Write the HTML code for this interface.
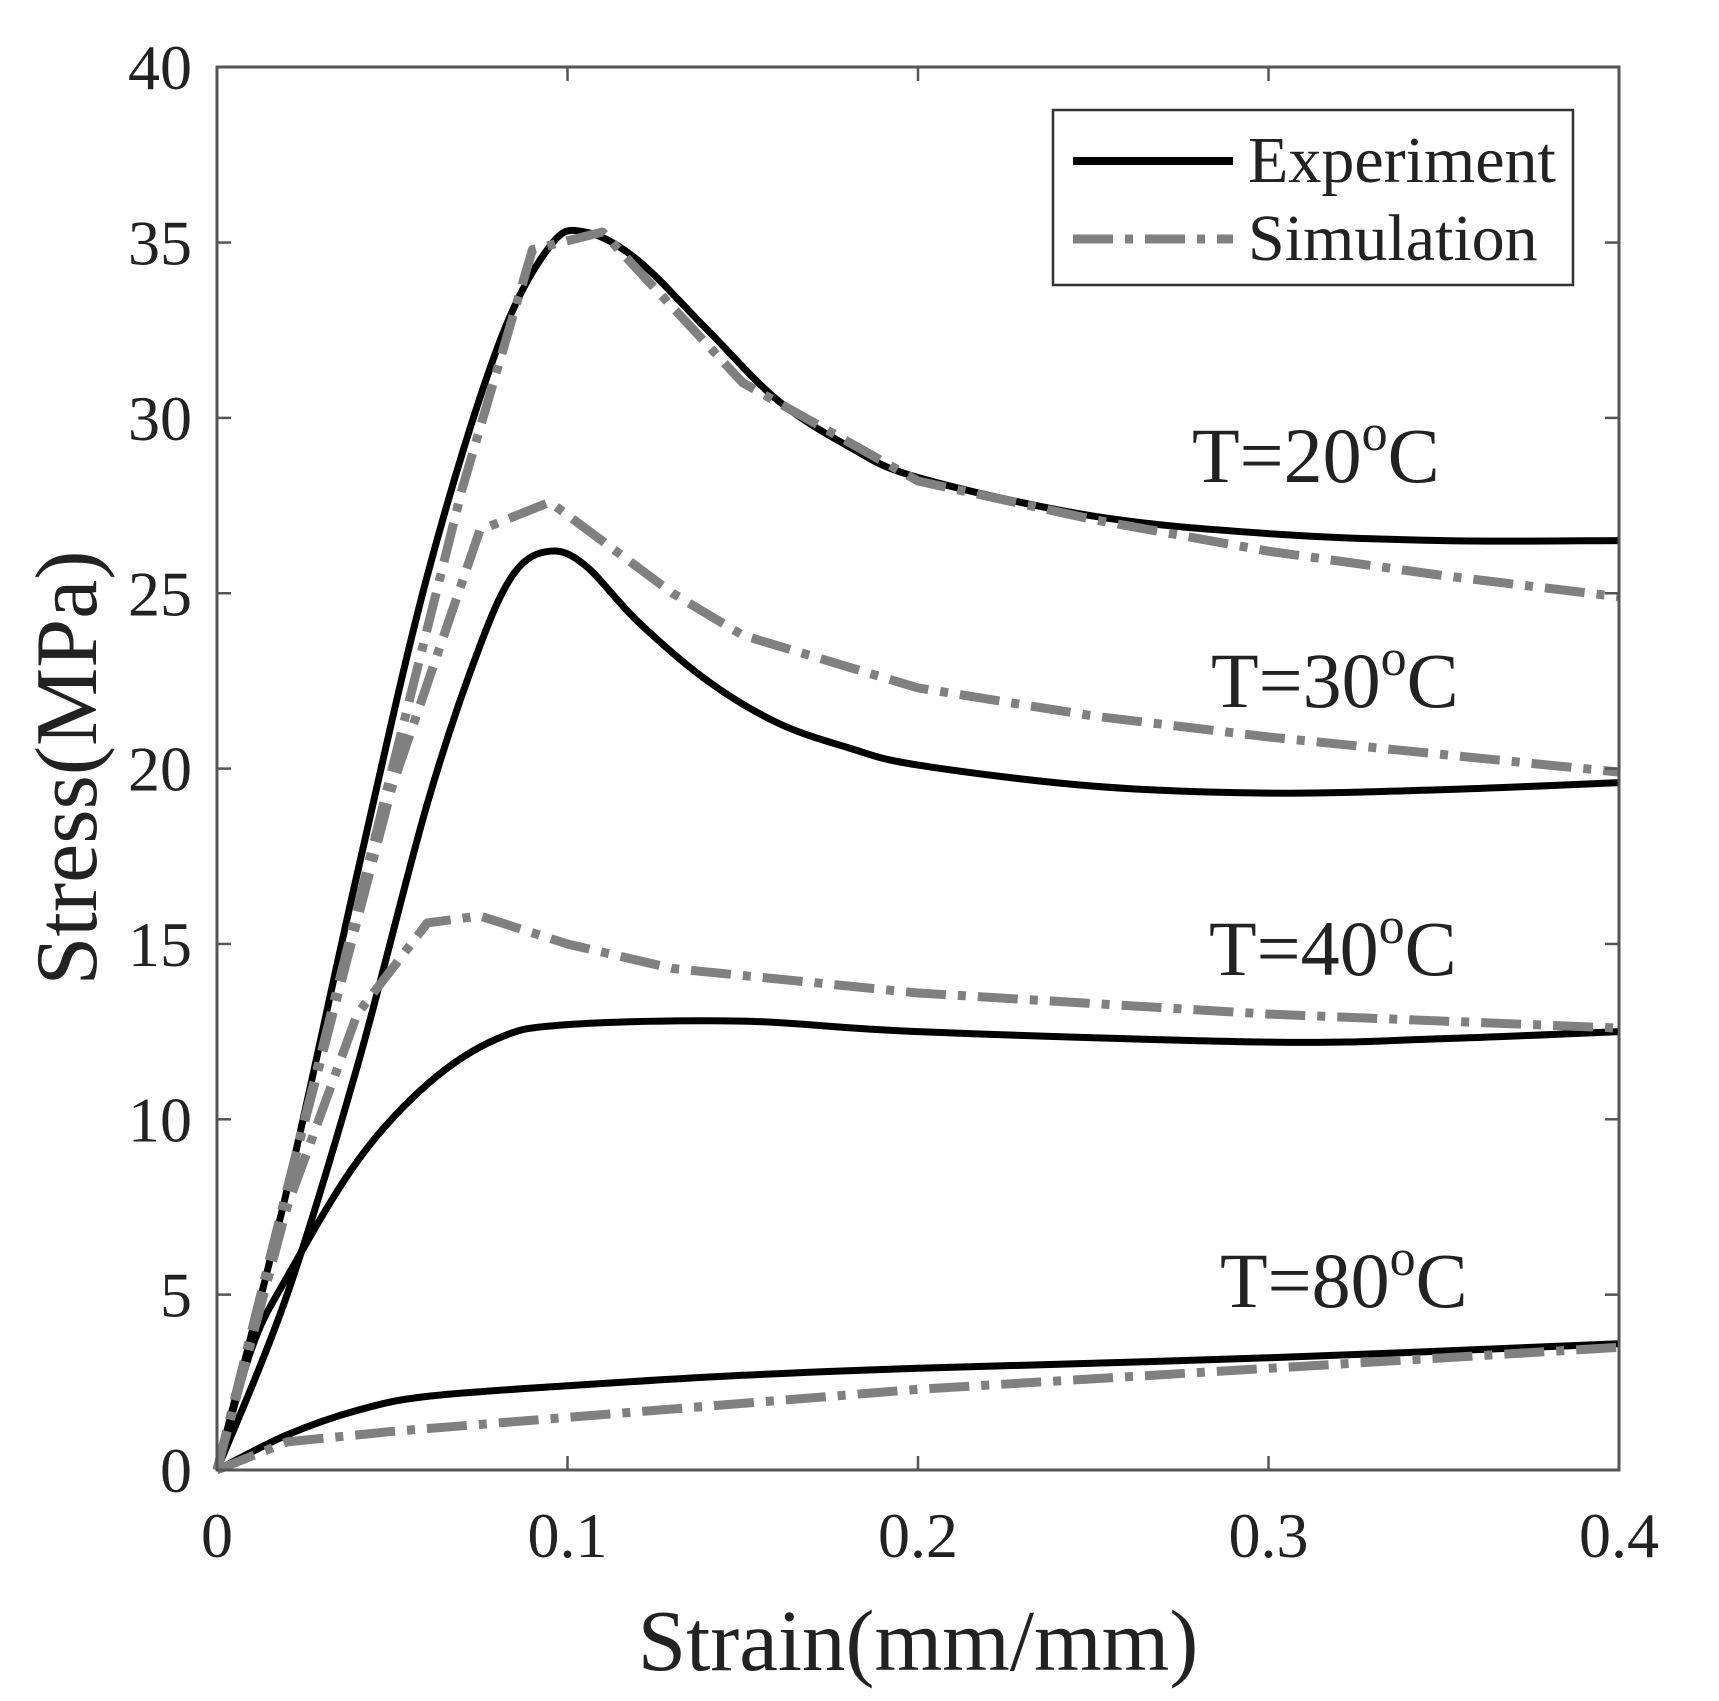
<!DOCTYPE html>
<html><head><meta charset="utf-8"><style>
html,body{margin:0;padding:0;background:#fff;}
svg text{font-family:"Liberation Serif",serif;fill:#222;}
</style></head><body>
<svg id="s" width="1719" height="1696" viewBox="0 0 1719 1696" xmlns="http://www.w3.org/2000/svg">
<rect width="1719" height="1696" fill="#fff"/>
<g id="curves" fill="none" stroke-linejoin="round"></g>
<rect x="217" y="67" width="1402" height="1403" fill="none" stroke="#555" stroke-width="3"/>
<g id="ticks" stroke="#555" stroke-width="2.5"></g>
<g id="labels" font-size="64"></g>
<text x="918" y="1670" font-size="87" text-anchor="middle">Strain(mm/mm)</text>
<text transform="translate(96,768) rotate(-90)" font-size="88" text-anchor="middle">Stress(MPa)</text>
<g font-size="78">
<text x="1192" y="482">T=20<tspan dy="-32" font-size="52">o</tspan><tspan dy="32">C</tspan></text>
<text x="1211" y="707">T=30<tspan dy="-32" font-size="52">o</tspan><tspan dy="32">C</tspan></text>
<text x="1209" y="975">T=40<tspan dy="-32" font-size="52">o</tspan><tspan dy="32">C</tspan></text>
<text x="1220" y="1307">T=80<tspan dy="-32" font-size="52">o</tspan><tspan dy="32">C</tspan></text>
</g>
<rect x="1053" y="110" width="520" height="175" fill="#fff" stroke="#333" stroke-width="2.5"/>
<line x1="1073" y1="161" x2="1233" y2="161" stroke="#000" stroke-width="8"/>
<line x1="1073" y1="239" x2="1233" y2="239" stroke="#808080" stroke-width="9" stroke-dasharray="40 12 8 12"/>
<text x="1248" y="182" font-size="66">Experiment</text>
<text x="1248" y="260" font-size="66">Simulation</text>
</svg>
<script>
var X=function(s){return 217+s*3505},Y=function(v){return 1470-v*35.07};
var ns="http://www.w3.org/2000/svg";
function path(pts,exp,smooth){var P=pts.map(function(p){return [X(p[0]),Y(p[1])]});
var d='M'+P[0][0].toFixed(1)+' '+P[0][1].toFixed(1);
for(var i=0;i<P.length-1;i++){
 if(!smooth){d+=' L'+P[i+1][0].toFixed(1)+' '+P[i+1][1].toFixed(1);continue;}
 var p0=P[Math.max(0,i-1)],p1=P[i],p2=P[i+1],p3=P[Math.min(P.length-1,i+2)];
 var c1=[p1[0]+(p2[0]-p0[0])/6,p1[1]+(p2[1]-p0[1])/6],c2=[p2[0]-(p3[0]-p1[0])/6,p2[1]-(p3[1]-p1[1])/6];
 d+=' C'+c1[0].toFixed(1)+' '+c1[1].toFixed(1)+' '+c2[0].toFixed(1)+' '+c2[1].toFixed(1)+' '+p2[0].toFixed(1)+' '+p2[1].toFixed(1);}
var e=document.createElementNS(ns,'path');e.setAttribute('d',d);
if(exp){e.setAttribute('stroke','#000');e.setAttribute('stroke-width','7');}
else{e.setAttribute('stroke','#808080');e.setAttribute('stroke-width','9');e.setAttribute('stroke-dasharray','40 12 8 12');}
document.getElementById('curves').appendChild(e);}
path([[0,0],[0.02,8],[0.04,17],[0.06,25.5],[0.08,32],[0.095,34.9],[0.105,35.3],[0.12,34.5],[0.14,32.5],[0.16,30.5],[0.18,29.2],[0.2,28.3],[0.25,27.2],[0.3,26.7],[0.35,26.5],[0.4,26.5]],1,1);
path([[0,0],[0.02,5],[0.04,11.5],[0.06,19],[0.075,23.5],[0.085,25.6],[0.095,26.2],[0.105,25.8],[0.12,24.2],[0.14,22.5],[0.16,21.3],[0.18,20.6],[0.2,20.1],[0.25,19.5],[0.3,19.3],[0.35,19.4],[0.4,19.6]],1,1);
path([[0,0],[0.01,3.5],[0.02,5.5],[0.04,8.8],[0.06,11],[0.08,12.3],[0.1,12.7],[0.15,12.8],[0.2,12.5],[0.3,12.2],[0.35,12.3],[0.4,12.5]],1,1);
path([[0,0],[0.02,1],[0.04,1.7],[0.06,2.1],[0.1,2.4],[0.15,2.7],[0.2,2.9],[0.3,3.2],[0.4,3.6]],1,1);
path([[0,0],[0.02,8],[0.05,20],[0.07,28],[0.09,34.8],[0.11,35.3],[0.15,31],[0.2,28.2],[0.25,27.1],[0.3,26.2],[0.35,25.5],[0.4,24.9]],0,0);
path([[0,0],[0.02,8],[0.05,19.5],[0.075,26.8],[0.095,27.6],[0.13,25],[0.15,23.8],[0.2,22.3],[0.25,21.5],[0.3,20.9],[0.35,20.4],[0.4,19.9]],0,0);
path([[0,0],[0.02,7.5],[0.04,13],[0.06,15.6],[0.075,15.8],[0.1,15],[0.13,14.3],[0.2,13.6],[0.3,13],[0.4,12.6]],0,0);
path([[0,0],[0.02,0.8],[0.05,1.1],[0.1,1.5],[0.2,2.3],[0.3,2.9],[0.4,3.5]],0,0);
var t=document.getElementById('ticks'),l=document.getElementById('labels');
function ln(a,b,c,d){var e=document.createElementNS(ns,'line');e.setAttribute('x1',a);e.setAttribute('y1',b);e.setAttribute('x2',c);e.setAttribute('y2',d);t.appendChild(e);}
function tx(x,y,s,a){var e=document.createElementNS(ns,'text');e.setAttribute('x',x);e.setAttribute('y',y);e.setAttribute('text-anchor',a);e.textContent=s;l.appendChild(e);}
for(var v=0;v<=40;v+=5){var y=Y(v);if(v>0&&v<40){ln(217,y,231,y);ln(1619,y,1605,y);}tx(192,y+22,String(v),'end');}
var xs=['0','0.1','0.2','0.3','0.4'];
for(var i=0;i<5;i++){var x=X(i*0.1);if(i>0&&i<4){ln(x,1470,x,1456);ln(x,67,x,81);}tx(x,1557,xs[i],'middle');}
</script>
</body></html>
